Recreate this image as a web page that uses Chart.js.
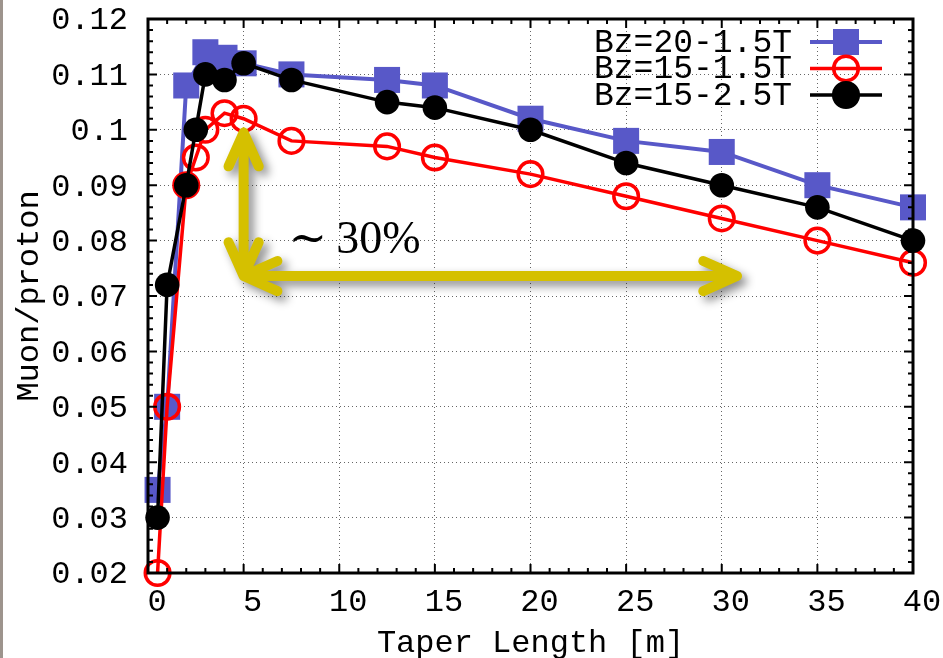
<!DOCTYPE html>
<html>
<head>
<meta charset="utf-8">
<script src="https://cdn.jsdelivr.net/npm/chart.js@4.4.1/dist/chart.umd.min.js"></script>
<style>
  html, body { margin: 0; padding: 0; background: #fff; }
  #wrap { position: relative; width: 943px; height: 658px; }
  #edge { position: absolute; left: 0; top: 0; width: 3px; height: 658px; background: #9d948d; }
</style>
</head>
<body>
<div id="wrap">
  <canvas id="chart" width="943" height="658"></canvas>
  <div id="edge"></div>
</div>
<script>
'use strict'

// taper length [m]
const lenBlue = [0.5, 1, 2, 3, 4, 5, 7.5, 12.5, 15, 20, 25, 30, 35, 40];
const lenOther = [0.5, 1, 2, 2.5, 3, 4, 5, 7.5, 12.5, 15, 20, 25, 30, 35, 40];

// muon / proton
const bz20_15 = [0.035, 0.05, 0.108, 0.114, 0.113, 0.112, 0.110, 0.109, 0.108, 0.102, 0.098, 0.096, 0.090, 0.086];
const bz15_15 = [0.02, 0.05, 0.09, 0.095, 0.100, 0.103, 0.102, 0.098, 0.097, 0.095, 0.092, 0.088, 0.084, 0.080, 0.076];
const bz15_25 = [0.03, 0.072, 0.09, 0.100, 0.110, 0.109, 0.112, 0.109, 0.105, 0.104, 0.100, 0.094, 0.090, 0.086, 0.080];

const seriesNames = ['Bz=20-1.5T', 'Bz=15-1.5T', 'Bz=15-2.5T'];

// "~30%" annotation, data units
const arrowTop = [5, 0.0995];
const arrowCorner = [5, 0.0736];
const arrowEnd = [30.8, 0.0736];
const noteText = '\u223C\u200930%';
const notePos = [7.35, 0.0778];

const mono = '"Liberation Mono", "DejaVu Sans Mono", monospace';
Chart.defaults.font.family = mono;
Chart.defaults.color = '#000';

let pairs = (xs, ys) => xs.map((x, i) => ({x: x, y: ys[i]}));

// inward ticks on all four sides + frame
const framePlugin = {
  id: 'frame',
  afterDatasetsDraw(chart) {
    let ctx = chart.ctx, xs = chart.scales.x, ys = chart.scales.y;
    let {left, right, top, bottom} = chart.chartArea;
    ctx.save();
    ctx.strokeStyle = '#000';
    ctx.lineWidth = 2;
    ctx.beginPath();
    for(let v = 0; v <= 40; v++) {
      let px = xs.getPixelForValue(v);
      let len = v % 5 === 0 ? 9 : 5;
      ctx.moveTo(px, bottom); ctx.lineTo(px, bottom - len);
      ctx.moveTo(px, top); ctx.lineTo(px, top + len);
    }
    for(let i = 0; i <= 50; i++) {
      let py = ys.getPixelForValue(0.02 + i * 0.002);
      let len = i % 5 === 0 ? 9 : 5;
      ctx.moveTo(left, py); ctx.lineTo(left + len, py);
      ctx.moveTo(right, py); ctx.lineTo(right - len, py);
    }
    ctx.stroke();
    ctx.lineWidth = 3;
    ctx.strokeRect(left, top, right - left, bottom - top);
    ctx.restore();
  }
};

// yellow double arrows and the ~30% note
const notePlugin = {
  id: 'note',
  afterDatasetsDraw(chart) {
    let ctx = chart.ctx, xs = chart.scales.x, ys = chart.scales.y;
    let pt = (p) => [xs.getPixelForValue(p[0]), ys.getPixelForValue(p[1])];
    let a = pt(arrowTop), c = pt(arrowCorner), b = pt(arrowEnd);
    let head = (tip, from) => {
      let dx = tip[0] - from[0], dy = tip[1] - from[1];
      let d = Math.hypot(dx, dy); dx /= d; dy /= d;
      let len = 37, ang = 0.42;
      for(let s of [-1, 1]) {
        let cs = Math.cos(s * ang), sn = Math.sin(s * ang);
        let rx = dx * cs - dy * sn, ry = dx * sn + dy * cs;
        ctx.moveTo(tip[0] - rx * len, tip[1] - ry * len);
        ctx.lineTo(tip[0], tip[1]);
      }
    };
    ctx.save();
    ctx.strokeStyle = '#d5c000';
    ctx.lineWidth = 10;
    ctx.lineCap = 'round';
    ctx.lineJoin = 'round';
    ctx.shadowColor = 'rgba(0,0,0,0.45)';
    ctx.shadowBlur = 10;
    ctx.shadowOffsetX = 5;
    ctx.shadowOffsetY = 5;
    ctx.beginPath();
    ctx.moveTo(a[0], a[1] + 4); ctx.lineTo(c[0], c[1] - 4);
    ctx.moveTo(c[0] + 4, c[1]); ctx.lineTo(b[0] - 4, b[1]);
    head(a, c); head([c[0], c[1]], a); head(c, b); head(b, c);
    ctx.stroke();
    ctx.restore();

    let n = pt(notePos);
    ctx.save();
    ctx.fillStyle = '#000';
    ctx.font = '46px "Liberation Serif", "DejaVu Serif", serif';
    ctx.textAlign = 'left';
    ctx.textBaseline = 'alphabetic';
    ctx.fillText(noteText, n[0], n[1]);
    ctx.restore();
  }
};

// key in the upper right corner of the plot
const keyPlugin = {
  id: 'key',
  afterDraw(chart) {
    let ctx = chart.ctx;
    let textRight = 792, lineL = 810, lineR = 882, mark = 846, y0 = 42, dy = 26.5;
    ctx.save();
    ctx.font = '33px ' + mono;
    ctx.textAlign = 'right';
    ctx.textBaseline = 'middle';
    chart.data.datasets.forEach((ds, i) => {
      let y = y0 + i * dy;
      ctx.fillStyle = '#000';
      ctx.fillText(ds.label, textRight, y + 1);
      ctx.strokeStyle = ds.borderColor;
      ctx.lineWidth = ds.borderWidth;
      ctx.beginPath(); ctx.moveTo(lineL, y); ctx.lineTo(lineR, y); ctx.stroke();
      if(ds.pointStyle === 'rect') {
        ctx.fillStyle = ds.pointBackgroundColor;
        ctx.fillRect(mark - 13, y - 13, 26, 26);
      } else {
        ctx.beginPath();
        ctx.arc(mark, y, ds.pointRadius, 0, Math.PI * 2);
        ctx.fillStyle = ds.pointBackgroundColor;
        ctx.fill();
        ctx.lineWidth = ds.pointBorderWidth;
        ctx.strokeStyle = ds.pointBorderColor;
        ctx.stroke();
      }
    });
    ctx.restore();
  }
};

new Chart(document.getElementById('chart'), {
  type: 'scatter',
  data: {
    datasets: [
      {
        label: seriesNames[0],
        data: pairs(lenBlue, bz20_15),
        showLine: true,
        order: 3,
        borderColor: '#5858c8',
        borderWidth: 4,
        pointStyle: 'rect',
        pointRadius: 18.4,
        pointBorderWidth: 0,
        pointBackgroundColor: '#5858c8',
        pointBorderColor: '#5858c8',
        clip: false
      },
      {
        label: seriesNames[1],
        data: pairs(lenOther, bz15_15),
        showLine: true,
        order: 2,
        borderColor: '#ff0000',
        borderWidth: 3.5,
        pointStyle: 'circle',
        pointRadius: 12.3,
        pointBorderWidth: 3.5,
        pointBackgroundColor: 'rgba(0,0,0,0)',
        pointBorderColor: '#ff0000',
        clip: false
      },
      {
        label: seriesNames[2],
        data: pairs(lenOther, bz15_25),
        showLine: true,
        order: 1,
        borderColor: '#000000',
        borderWidth: 3.5,
        pointStyle: 'circle',
        pointRadius: 12.3,
        pointBorderWidth: 0,
        pointBackgroundColor: '#000000',
        pointBorderColor: '#000000',
        clip: false
      }
    ]
  },
  options: {
    responsive: false,
    devicePixelRatio: 1,
    animation: false,
    layout: { padding: { top: 19, right: 30, left: 0, bottom: 0 } },
    plugins: {
      legend: { display: false },
      tooltip: { enabled: false }
    },
    scales: {
      x: {
        type: 'linear',
        min: 0, max: 40,
        afterFit: (s) => { s.height = 85; s.paddingLeft = 0; s.paddingRight = 0; },
        ticks: { stepSize: 5, labelOffset: 9, padding: 10, font: { size: 32 }, color: '#000' },
        grid: { color: '#666', lineWidth: 1, drawTicks: false },
        border: { display: false, dash: [1, 3] },
        title: { display: true, text: 'Taper Length [m]', font: { size: 32 }, color: '#000', padding: { top: 0, bottom: -5 } }
      },
      y: {
        type: 'linear',
        min: 0.02, max: 0.12,
        afterFit: (s) => { s.width = 148; s.paddingTop = 0; s.paddingBottom = 0; },
        ticks: {
          stepSize: 0.01, padding: 20, labelOffset: 2,
          font: { size: 32 }, color: '#000',
          callback: (v) => String(Math.round(v * 100) / 100)
        },
        grid: { color: '#666', lineWidth: 1, drawTicks: false },
        border: { display: false, dash: [1, 3] },
        title: { display: true, text: 'Muon/proton', font: { size: 32 }, color: '#000', padding: { top: 10, bottom: 0 } }
      }
    }
  },
  plugins: [notePlugin, framePlugin, keyPlugin]
});
</script>
</body>
</html>
